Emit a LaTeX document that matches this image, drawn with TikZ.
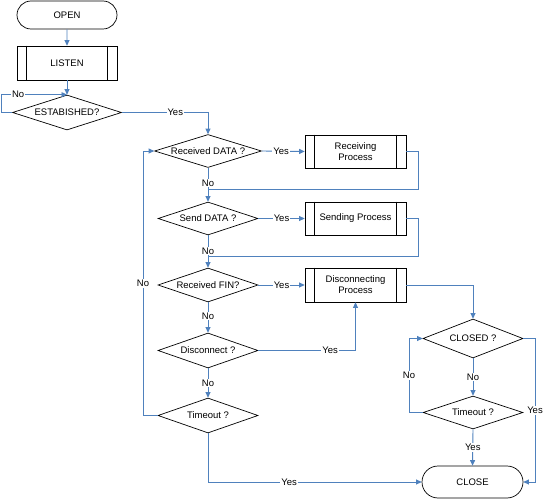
\documentclass[tikz,border=0pt]{standalone}
\usepackage{fontspec}
\setmainfont{Liberation Sans}
\usetikzlibrary{shapes.geometric,shapes.misc,arrows.meta}
\definecolor{flowblue}{HTML}{4F81BD}
\tikzset{
  every node/.style={font=\fontsize{9.5}{11}\selectfont},
  term/.style={rounded rectangle, draw=black, line width=0.7pt, fill=white, minimum width=100pt, inner sep=0pt},
  proc/.style={rectangle, draw=black, line width=0.7pt, fill=white, minimum width=101pt, minimum height=33pt, inner sep=0pt, align=center},
  dec/.style={diamond, draw=black, line width=0.7pt, fill=white, aspect=3, inner sep=0pt, minimum width=100pt, minimum height=34pt, label={center:#1}},
  flow/.style={draw=flowblue, line width=0.9pt, -{Triangle[length=5.5pt,width=5pt]}},
  link/.style={draw=flowblue, line width=0.9pt},
  lbl/.style={fill=white, inner sep=1pt}
}
\begin{document}
\begin{tikzpicture}[x=1pt,y=-1pt]
\useasboundingbox (0,0) rectangle (544,500);
% nodes
\node[term, minimum height=28pt] (open) at (67,15) {OPEN};
\node[proc, minimum width=100pt, minimum height=34pt] (listen) at (67,63) {LISTEN};
\node[dec={ESTABISHED?}, minimum width=109pt, minimum height=35pt] (est) at (67,112.5) {};
\node[dec={Received DATA ?}, minimum width=107pt, minimum height=33pt] (rd) at (208,151) {};
\node[proc] (recv) at (355.5,151.5) {Receiving\\Process};
\node[dec={Send DATA ?}, minimum height=33pt] (sd) at (208,218.5) {};
\node[proc] (send) at (355.5,218.5) {Sending Process};
\node[dec={Received FIN?}] (fin) at (208,285) {};
\node[proc, minimum height=34pt] (disc) at (355.5,285) {Disconnecting\\Process};
\node[dec={Disconnect ?}, minimum height=35pt] (dq) at (208,350.5) {};
\node[dec={Timeout ?}, minimum height=35pt] (to1) at (208,415.5) {};
\node[dec={CLOSED ?}, minimum height=39pt] (closed) at (473,338.5) {};
\node[dec={Timeout ?}, minimum height=33pt] (to2) at (473,412.5) {};
\node[term, minimum width=101pt, minimum height=32pt] (close) at (472.5,482) {CLOSE};
% inner bars of process boxes
\foreach \n in {listen,recv,send,disc}{
  \draw[line width=0.7pt] ([xshift=10pt]\n.north west) -- ([xshift=10pt]\n.south west);
  \draw[line width=0.7pt] ([xshift=-10pt]\n.north east) -- ([xshift=-10pt]\n.south east);
}
% coordinates
\coordinate (nl) at (1,112.5);
\coordinate (m1) at (208,189);
\coordinate (m2) at (208,256);
\coordinate (r1) at (418,151.5);
\coordinate (r2) at (418,218.5);
\coordinate (lb) at (143,415.5);
\coordinate (lb2) at (409,412.5);
\coordinate (rb) at (535,338.5);
% connectors
\draw[flow] (open) -- (listen);
\draw[flow] (listen) -- (est);
\draw[flow] (est.west) -- (nl) |- node[lbl, pos=0.63] {No} (est.north);
\draw[flow] (est.east) -| node[lbl, pos=0.31] {Yes} (rd.north);
\draw[flow] (rd.east) -- node[lbl, pos=0.45] {Yes} (recv.west);
\draw[link] (recv.east) -- (r1) |- (m1);
\draw[flow] (rd.south) -- node[lbl, pos=0.45] {No} (sd.north);
\draw[flow] (sd.east) -- node[lbl, pos=0.5] {Yes} (send.west);
\draw[link] (send.east) -- (r2) |- (m2);
\draw[flow] (sd.south) -- node[lbl, pos=0.48] {No} (fin.north);
\draw[flow] (fin.east) -- node[lbl, pos=0.5] {Yes} (disc.west);
\draw[flow] (disc.east) -| (closed.north);
\draw[flow] (fin.south) -- node[lbl, pos=0.45] {No} (dq.north);
\draw[flow] (dq.east) -| node[lbl, pos=0.37] {Yes} (disc.south);
\draw[flow] (dq.south) -- node[lbl, pos=0.5] {No} (to1.north);
\draw[flow] (to1.west) -- (lb) |- node[lbl, pos=0.25] {No} (rd.west);
\draw[flow] (to1.south) |- node[lbl, pos=0.69] {Yes} (close.west);
\draw[flow] (closed.south) -- node[lbl, pos=0.5] {No} (to2.north);
\draw[flow] (to2.west) -- (lb2) |- node[lbl, pos=0.25] {No} (closed.west);
\draw[flow] (closed.east) -- (rb) |- node[lbl, pos=0.25] {Yes} (close.east);
\draw[flow] (to2.south) -- node[lbl, pos=0.5] {Yes} (close.north);
\end{tikzpicture}
\end{document}
